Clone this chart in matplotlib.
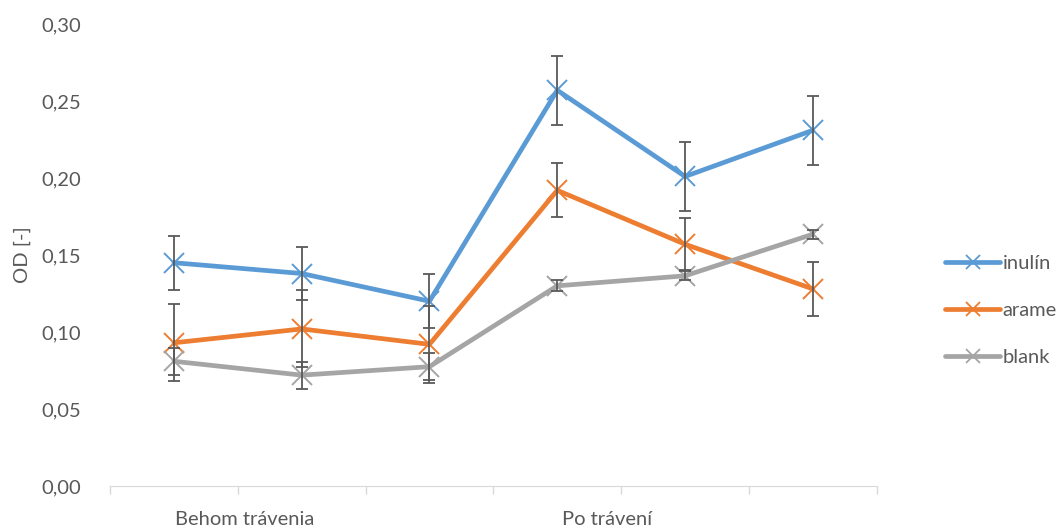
import matplotlib.pyplot as plt
from matplotlib.lines import Line2D

plt.rcParams['font.family'] = ['Lato', 'DejaVu Sans']

groups = ["Behom trávenia", "Po trávení"]
positions = [0, 1, 2, 3, 4, 5]

inulin = [0.145, 0.138, 0.120, 0.257, 0.201, 0.231]
inulin_err = [0.0175, 0.0175, 0.0175, 0.0225, 0.0225, 0.0225]
arame = [0.093, 0.102, 0.092, 0.192, 0.157, 0.128]
arame_err = [0.025, 0.025, 0.025, 0.0175, 0.017, 0.0177]
blank = [0.081, 0.072, 0.0775, 0.130, 0.1365, 0.1635]
blank_err = [0.0087, 0.0087, 0.0087, 0.0035, 0.003, 0.003]

series = [
    ("inulín", inulin, inulin_err, "#5B9BD5"),
    ("arame", arame, arame_err, "#ED7D31"),
    ("blank", blank, blank_err, "#A5A5A5"),
]

txt = "#595959"
fs = 14.5

fig = plt.figure(figsize=(10.64, 5.28), dpi=100)
ax = fig.add_axes([0.1034, 0.0795, 0.7206, 0.875])

handles = []
for name, vals, errs, color in series:
    ax.plot(positions, vals, color=color, lw=3.4, marker="x", ms=15,
            mew=1.4, zorder=2, solid_capstyle="round")
    ax.errorbar(positions, vals, yerr=errs, fmt="none", ecolor=txt,
                elinewidth=1.3, capsize=4.5, capthick=1.3, zorder=3)
    handles.append(Line2D([], [], color=color, lw=3.4, marker="x", ms=10,
                          mew=1.3, solid_capstyle="round"))

ax.set_xlim(-0.5, 5.5)
ax.set_ylim(0, 0.30)
ax.set_yticks([0, 0.05, 0.10, 0.15, 0.20, 0.25, 0.30])
ax.set_yticklabels([f"{v:.2f}".replace(".", ",") for v in ax.get_yticks()])
ax.tick_params(axis="y", length=0, pad=21, labelsize=fs, labelcolor=txt)

ax.set_xticks([p - 0.5 for p in positions] + [5.5])
ax.set_xticklabels([])
ax.tick_params(axis="x", length=6, color="#D9D9D9", width=1)

for side in ["top", "right", "left"]:
    ax.spines[side].set_visible(False)
ax.spines["bottom"].set_color("#D9D9D9")

ax.set_ylabel("OD [-]", fontsize=fs, color=txt, labelpad=7)

label_x = [0.55, 3.39]
for gx, g in zip(label_x, groups):
    ax.text(gx, -0.0215, g, ha="center", va="center", fontsize=fs, color=txt)

leg = fig.legend(handles, [s[0] for s in series], loc="center left",
                 bbox_to_anchor=(0.881, 0.412), frameon=False, fontsize=fs,
                 handlelength=2.7, handletextpad=0.15, labelspacing=1.5,
                 borderaxespad=0)
for t in leg.get_texts():
    t.set_color(txt)

fig.savefig("out.png", dpi=100)
